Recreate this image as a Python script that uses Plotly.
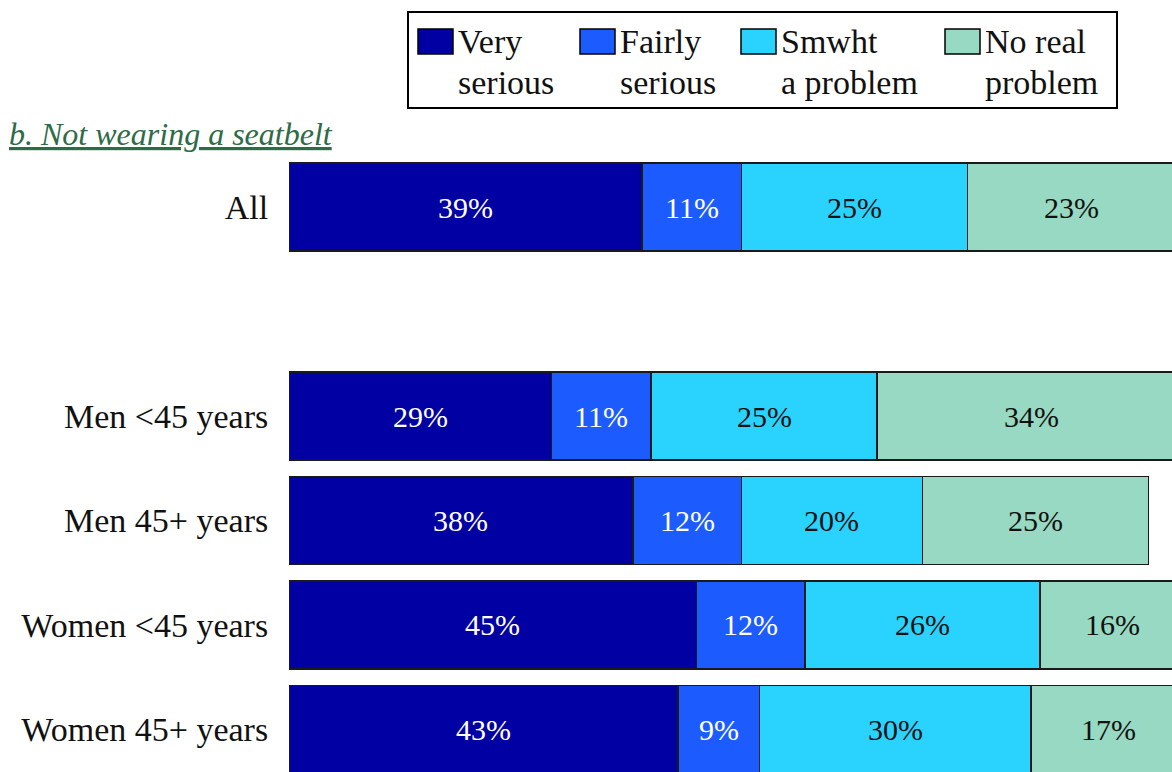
import plotly.graph_objects as go

categories = ["All", "", "Men <45 years", "Men 45+ years", "Women <45 years", "Women 45+ years"]
very_serious = [39, None, 29, 38, 45, 43]
fairly_serious = [11, None, 11, 12, 12, 9]
smwht_problem = [25, None, 25, 20, 26, 30]
no_real_problem = [23, None, 34, 25, 16, 17]

series_names = ["Very<br>serious", "Fairly<br>serious", "Smwht<br>a problem", "No real<br>problem"]
series_values = [very_serious, fairly_serious, smwht_problem, no_real_problem]
colors = ["#0000A3", "#1C5CFF", "#2AD3FD", "#97D9C2"]
label_colors = ["white", "white", "#111111", "#111111"]

FONT = "Liberation Serif"
rows = list(range(len(categories)))

W, H = 1172, 772
ML, MR, MT, MB = 289, 0, 130, 0


def px(x):
    return (x - ML) / (W - ML - MR)


def py(y):
    return 1 - (y - MT) / (H - MT - MB)


fig = go.Figure()
for name, vals, col in zip(series_names, series_values, colors):
    fig.add_trace(go.Bar(
        y=rows, x=vals, orientation="h", name=name,
        marker=dict(color=col, line=dict(color="#1a1a1a", width=1.5)),
        width=0.84, showlegend=False, hoverinfo="x",
    ))

# value labels at segment centres
annotations = []
for r in rows:
    cum = 0
    for vals, lc in zip(series_values, label_colors):
        v = vals[r]
        if v is None:
            continue
        annotations.append(dict(
            x=cum + v / 2, y=r, xref="x", yref="y", text=f"{v}%",
            showarrow=False, font=dict(family=FONT, size=30, color=lc),
        ))
        cum += v

# title
annotations.append(dict(
    x=px(7), y=py(134), xref="paper", yref="paper",
    text="<i><u>b. Not wearing a seatbelt</u></i>",
    showarrow=False, xanchor="left", yanchor="middle",
    font=dict(family=FONT, size=32, color="#2E6B47"),
))

shapes = []
# legend box
shapes.append(dict(type="rect", xref="paper", yref="paper",
                   x0=px(408), x1=px(1117), y0=py(12), y1=py(108),
                   line=dict(color="black", width=2), fillcolor="white"))
legend_x = [418, 580, 741, 945]
for lx, name, col in zip(legend_x, series_names, colors):
    shapes.append(dict(type="rect", xref="paper", yref="paper",
                       x0=px(lx), x1=px(lx + 35), y0=py(29), y1=py(54),
                       line=dict(color="black", width=1.5), fillcolor=col))
    first, second = name.split("<br>")
    annotations.append(dict(x=px(lx + 38), y=py(42), xref="paper", yref="paper",
                            text=first, showarrow=False, xanchor="left", yanchor="middle",
                            font=dict(family=FONT, size=34, color="#111111")))
    annotations.append(dict(x=px(lx + 38), y=py(83), xref="paper", yref="paper",
                            text=second, showarrow=False, xanchor="left", yanchor="middle",
                            font=dict(family=FONT, size=34, color="#111111")))

fig.update_layout(
    barmode="stack",
    width=W, height=H,
    margin=dict(l=ML, r=MR, t=MT, b=MB),
    paper_bgcolor="white", plot_bgcolor="white",
    xaxis=dict(range=[0, 97.57], showgrid=False, zeroline=False, showticklabels=False,
               showline=False, fixedrange=True),
    yaxis=dict(range=[5.407, -0.737], tickvals=rows, ticktext=categories,
               showgrid=False, zeroline=False, showline=False,
               ticks="outside", ticklen=13, tickcolor="rgba(0,0,0,0)",
               tickfont=dict(family=FONT, size=34, color="#111111"), fixedrange=True),
    annotations=annotations,
    shapes=shapes,
    showlegend=False,
)

fig.write_html("out.html")
